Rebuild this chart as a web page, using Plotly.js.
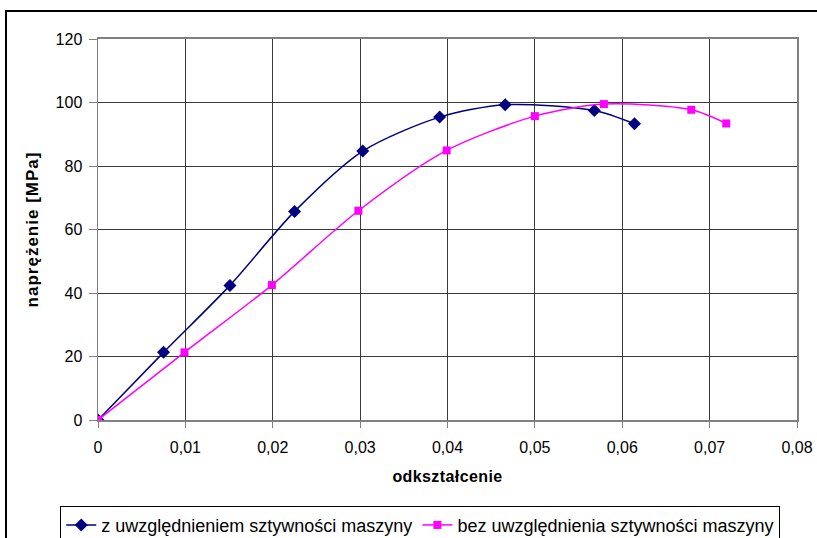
<!DOCTYPE html>
<html>
<head>
<meta charset="utf-8">
<script src="https://cdn.plot.ly/plotly-3.0.1.min.js"></script>
<style>
  html, body { margin: 0; padding: 0; background: #fff; overflow: hidden; }
  #chart { position: absolute; left: 0; top: 0; width: 817px; height: 538px; }
  #frame { position: absolute; left: 5px; top: 10px; width: 840px; height: 560px;
           border: 2px solid #000; pointer-events: none; }
  #chart .ytitle { letter-spacing: 1px; }
  #chart .xtitle { letter-spacing: 0.4px; }
</style>
</head>
<body>
<div id="chart"></div>
<div id="frame"></div>
<script>
// Data
const seriesAName = "z uwzględnieniem sztywności maszyny";
const seriesAStrain = [0, 0.0075, 0.0151, 0.0225, 0.0303, 0.0391, 0.0466, 0.0568, 0.0614];
const seriesAStress = [0, 21.3, 42.4, 65.7, 84.7, 95.4, 99.3, 97.5, 93.3];

const seriesBName = "bez uwzględnienia sztywności maszyny";
const seriesBStrain = [0, 0.0099, 0.0199, 0.0298, 0.0399, 0.0500, 0.0579, 0.0679, 0.0719];
const seriesBStress = [0, 21.3, 42.5, 65.9, 84.9, 95.7, 99.5, 97.7, 93.4];

const xTitle = "odkształcenie";
const yTitle = "naprężenie [MPa]";

const font = "Liberation Sans, Arial, sans-serif";

const traces = [
  {
    x: seriesAStrain, y: seriesAStress, name: seriesAName,
    type: "scatter", mode: "lines+markers",
    line: { color: "#000080", width: 1.5, shape: "spline", smoothing: 0.8 },
    marker: { symbol: "diamond", size: 10, color: "#000080" }
  },
  {
    x: seriesBStrain, y: seriesBStress, name: seriesBName,
    type: "scatter", mode: "lines+markers",
    line: { color: "#FF00FF", width: 1.5, shape: "spline", smoothing: 0.8 },
    marker: { symbol: "square", size: 8, color: "#FF00FF" }
  }
];

const layout = {
  width: 817, height: 538,
  paper_bgcolor: "#fff", plot_bgcolor: "#fff",
  separators: ", ",
  font: { family: font, size: 16, color: "#000" },
  margin: { l: 98, r: 20, t: 39, b: 118, autoexpand: false },
  showlegend: true,
  legend: {
    orientation: "h", x: -0.054, xanchor: "left", y: -0.225, yanchor: "top",
    bordercolor: "#000", borderwidth: 1, bgcolor: "#fff",
    font: { family: font, size: 18, color: "#000" },
    itemwidth: 30, tracegroupgap: 0
  },
  xaxis: {
    range: [0, 0.08], dtick: 0.01, tick0: 0,
    showgrid: true, gridcolor: "#3a3a3a", gridwidth: 1,
    showline: true, linecolor: "#808080", linewidth: 2, mirror: true,
    zeroline: false,
    ticks: "outside", ticklen: 6, tickcolor: "#808080", tickwidth: 1,
    ticklabelstandoff: 6,
    tickfont: { family: font, size: 16, color: "#000" },
    title: { text: xTitle, font: { family: font, size: 16, color: "#000", weight: "bold" }, standoff: 16 }
  },
  yaxis: {
    range: [0, 120], dtick: 20, tick0: 0,
    showgrid: true, gridcolor: "#3a3a3a", gridwidth: 1,
    showline: true, linecolor: "#808080", linewidth: 1.5, mirror: true,
    zeroline: false,
    ticks: "outside", ticklen: 8, tickcolor: "#808080", tickwidth: 1,
    ticklabelstandoff: 3,
    tickfont: { family: font, size: 16, color: "#000" },
    title: { text: yTitle, font: { family: font, size: 17, color: "#000", weight: "bold" }, standoff: 12 }
  }
};

Plotly.newPlot("chart", traces, layout, { displayModeBar: false, staticPlot: true });
</script>
</body>
</html>
